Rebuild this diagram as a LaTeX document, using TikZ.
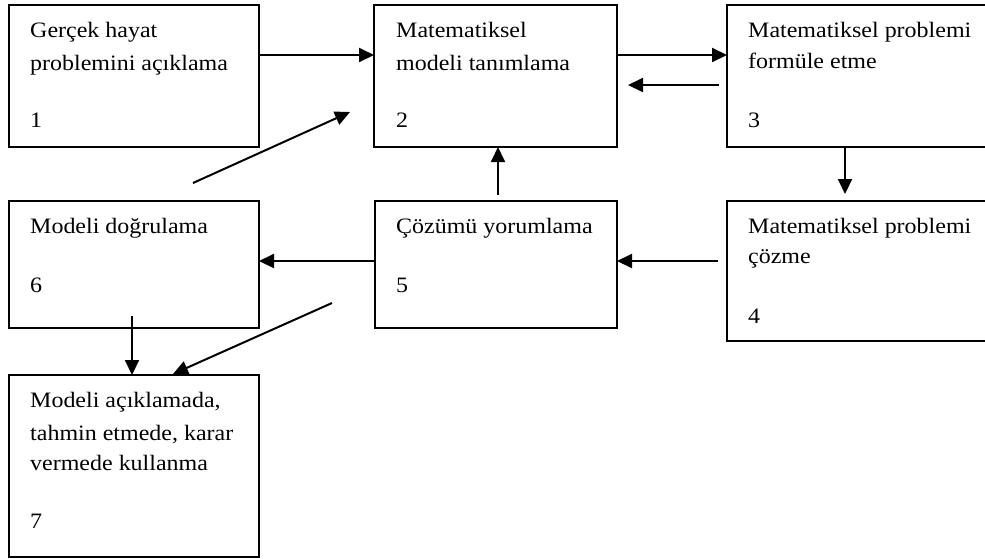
\documentclass[tikz,border=0pt]{standalone}
\usepackage{fontspec}
\setmainfont[FakeStretch=1.09]{Liberation Serif}
\usetikzlibrary{arrows.meta}

\begin{document}
\begin{tikzpicture}[x=1pt, y=-1pt,
  box/.style={draw, line width=1.5pt, rectangle, inner sep=0pt, outer sep=0pt},
  lbl/.style={anchor=base west, inner sep=0pt, font=\fontsize{22}{26}\selectfont},
  arr/.style={line width=2pt, -{Triangle[length=15pt, width=14pt]}}]
  \clip (0,0) rectangle (985,558);
  \fill[white] (0,0) rectangle (985,558);

  % process boxes
  \node[box, minimum width=250pt, minimum height=142pt] (b1) at (134,76) {};
  \node[box, minimum width=243pt, minimum height=142pt] (b2) at (495.5,76) {};
  \node[box, minimum width=273pt, minimum height=142pt] (b3) at (863.5,76) {};
  \node[box, minimum width=250pt, minimum height=127pt] (b6) at (134,264.5) {};
  \node[box, minimum width=242pt, minimum height=127pt] (b5) at (496,264.5) {};
  \node[box, minimum width=273pt, minimum height=140pt] (b4) at (863.5,271) {};
  \node[box, minimum width=250pt, minimum height=182pt] (b7) at (134,466) {};

  % box texts
  \node[lbl] (t1a) at (30,37) {Gerçek hayat};
  \node[lbl] (t1b) at (30,70) {problemini açıklama};
  \node[lbl] (n1)  at (30,127) {1};

  \node[lbl] (t2a) at (396,37) {Matematiksel};
  \node[lbl] (t2b) at (396,70) {modeli tanımlama};
  \node[lbl] (n2)  at (396,127) {2};

  \node[lbl] (t3a) at (748,37) {Matematiksel problemi};
  \node[lbl] (t3b) at (748,68) {formüle etme};
  \node[lbl] (n3)  at (748,127) {3};

  \node[lbl] (t4a) at (748,233) {Matematiksel problemi};
  \node[lbl] (t4b) at (748,263) {çözme};
  \node[lbl] (n4)  at (748,323) {4};

  \node[lbl] (t5a) at (396,233) {Çözümü yorumlama};
  \node[lbl] (n5)  at (396,292) {5};

  \node[lbl] (t6a) at (30,233) {Modeli doğrulama};
  \node[lbl] (n6)  at (30,292) {6};

  \node[lbl] (t7a) at (30,407) {Modeli açıklamada,};
  \node[lbl] (t7b) at (30,440) {tahmin etmede, karar};
  \node[lbl] (t7c) at (30,470) {vermede kullanma};
  \node[lbl] (n7)  at (30,528) {7};

  % free ends of connectors
  \coordinate (back3s) at (719,85);
  \coordinate (back3e) at (628,85);
  \coordinate (up6s) at (193,183);
  \coordinate (up6e) at (350,112);
  \coordinate (up5s) at (498,195);
  \coordinate (dn3e) at (845,194);
  \coordinate (lf4s) at (718,261);
  \coordinate (dn6s) at (132,316);
  \coordinate (dg5s) at (332,303);
  \coordinate (dg5e) at (173,374);

  % connectors
  \draw[arr] (b1.east |- 0,55) -- (b2.west |- 0,55);
  \draw[arr] (b2.east |- 0,55) -- (b3.west |- 0,55);
  \draw[arr] (back3s) -- (back3e);
  \draw[arr] (up6s) -- (up6e);
  \draw[arr] (up5s) -- (b2.south -| up5s);
  \draw[arr] (b3.south -| dn3e) -- (dn3e);
  \draw[arr] (lf4s) -- (b5.east |- lf4s);
  \draw[arr] (b5.west |- 0,261) -- (b6.east |- 0,261);
  \draw[arr] (dn6s) -- (b7.north -| dn6s);
  \draw[arr] (dg5s) -- (dg5e);
\end{tikzpicture}
\end{document}
